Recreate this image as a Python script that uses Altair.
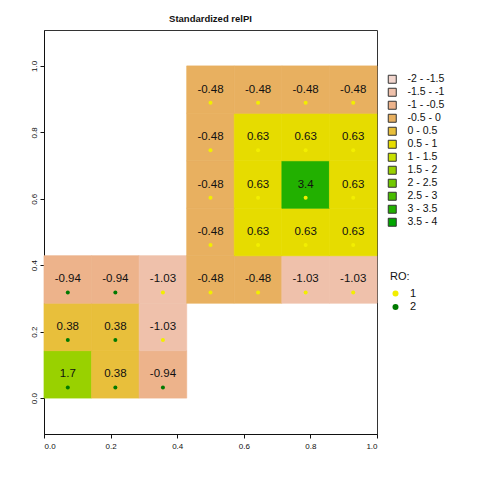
import altair as alt
import pandas as pd

# grid cells: column index, row index (0 = bottom), value, RO class
cols = [0, 1, 2,
        0, 1, 2,
        0, 1, 2, 3, 4, 5, 6,
        3, 4, 5, 6,
        3, 4, 5, 6,
        3, 4, 5, 6,
        3, 4, 5, 6]
rows = [0, 0, 0,
        1, 1, 1,
        2, 2, 2, 2, 2, 2, 2,
        3, 3, 3, 3,
        4, 4, 4, 4,
        5, 5, 5, 5,
        6, 6, 6, 6]
values = [1.7, 0.38, -0.94,
          0.38, 0.38, -1.03,
          -0.94, -0.94, -1.03, -0.48, -0.48, -1.03, -1.03,
          -0.48, 0.63, 0.63, 0.63,
          -0.48, 0.63, 3.4, 0.63,
          -0.48, 0.63, 0.63, 0.63,
          -0.48, -0.48, -0.48, -0.48]
ro = ["2", "2", "2",
      "2", "2", "1",
      "2", "2", "1", "1", "1", "1", "1",
      "1", "1", "1", "1",
      "1", "1", "1", "1",
      "1", "1", "1", "1",
      "1", "1", "1", "1"]

bin_lower = [-2, -1.5, -1, -0.5, 0, 0.5, 1, 1.5, 2, 2.5, 3, 3.5]
bin_labels = ["-2 - -1.5", "-1.5 - -1", "-1 - -0.5", "-0.5 - 0", "0 - 0.5", "0.5 - 1",
              "1 - 1.5", "1.5 - 2", "2 - 2.5", "2.5 - 3", "3 - 3.5", "3.5 - 4"]
bin_colors = ["#F2D6CE", "#EFC1AB", "#EDB38B", "#E8B060", "#E8BF3B", "#E6DC00",
              "#C8E000", "#99D100", "#70C800", "#48BC00", "#22B000", "#00A600"]
bin_codes = ["b%d" % i for i in range(len(bin_labels))]

ro_labels = ["1", "2"]
ro_colors = ["#F2EE00", "#007A00"]

x_ticks = [0.0, 0.2, 0.4, 0.6, 0.8, 1.0]
n_cells = 7


def bin_index(v):
    idx = 0
    for i, lo in enumerate(bin_lower):
        if v >= lo:
            idx = i
    return idx


df = pd.DataFrame({"col": cols, "row": rows, "value": values, "ro": ro})
df["x0"] = df["col"] / n_cells
df["x1"] = (df["col"] + 1) / n_cells
df["y0"] = df["row"] / n_cells
df["y1"] = (df["row"] + 1) / n_cells
df["xc"] = (df["col"] + 0.5) / n_cells
df["yc"] = (df["row"] + 0.5) / n_cells
df["yp"] = df["row"] / n_cells + 0.032
df["bin"] = [bin_labels[bin_index(v)] for v in values]
df["bin_code"] = [bin_codes[bin_index(v)] for v in values]
df["label"] = [str(v) for v in values]

xscale = alt.Scale(domain=[0, 1], nice=False, zero=False)
yscale = alt.Scale(domain=[-0.108, 1.108], nice=False, zero=False)

xaxis = alt.Axis(values=x_ticks, format=".1f", title=None, grid=False,
                 tickSize=4, labelPadding=4, labelFontSize=8)
yaxis = alt.Axis(values=x_ticks, format=".1f", title=None, grid=False,
                 tickSize=4, labelPadding=2, labelFontSize=8,
                 labelAngle=270, labelAlign="center", labelBaseline="bottom")

base = alt.Chart(df)

rect = base.mark_rect(strokeWidth=0.7).encode(
    x=alt.X("x0:Q", scale=xscale, axis=xaxis),
    x2="x1:Q",
    y=alt.Y("y0:Q", scale=yscale, axis=yaxis),
    y2="y1:Q",
    fill=alt.Fill("bin:N",
                  scale=alt.Scale(domain=bin_labels, range=bin_colors),
                  legend=alt.Legend(title=None, orient="none", legendX=343, legendY=44,
                                    symbolType="square", symbolSize=64,
                                    symbolStrokeColor="#333", symbolStrokeWidth=1,
                                    labelFontSize=10.5, labelOffset=10, rowPadding=0,
                                    padding=0, labelColor="#111")),
    stroke=alt.Stroke("bin_code:N", scale=alt.Scale(domain=bin_codes, range=bin_colors),
                      legend=None),
)

text = base.mark_text(fontSize=11.5, color="#111").encode(
    x=alt.X("xc:Q", scale=xscale),
    y=alt.Y("yc:Q", scale=yscale),
    text="label:N",
)

points = base.mark_circle(size=16, opacity=1).encode(
    x=alt.X("xc:Q", scale=xscale),
    y=alt.Y("yp:Q", scale=yscale),
    color=alt.Color("ro:N",
                    scale=alt.Scale(domain=ro_labels, range=ro_colors),
                    legend=alt.Legend(title="RO:", orient="none", legendX=346, legendY=241,
                                      titleFontSize=11, titleFontWeight="normal",
                                      titleColor="#111", titlePadding=6,
                                      symbolType="circle", symbolSize=36,
                                      symbolStrokeWidth=0,
                                      labelFontSize=11, labelOffset=9, rowPadding=1.5,
                                      padding=0, labelColor="#111")),
)

chart = alt.layer(rect, text, points).properties(
    width=333,
    height=404,
    autosize=alt.AutoSizeParams(type="none"),
    padding={"left": 44, "top": 30, "right": 103, "bottom": 46},
    title=alt.Title("Standardized relPI", fontSize=9.5, fontWeight="bold",
                    anchor="middle", offset=7, color="#111"),
).configure(
    font="Liberation Sans",
).configure_view(
    stroke="#333", strokeWidth=1,
).configure_axis(
    domainColor="#111", tickColor="#111", labelColor="#111",
    labelFont="Liberation Sans",
).configure_legend(
    labelFont="Liberation Sans", titleFont="Liberation Sans",
)

chart.save("out.html", embed_options={"renderer": "svg", "actions": False})
